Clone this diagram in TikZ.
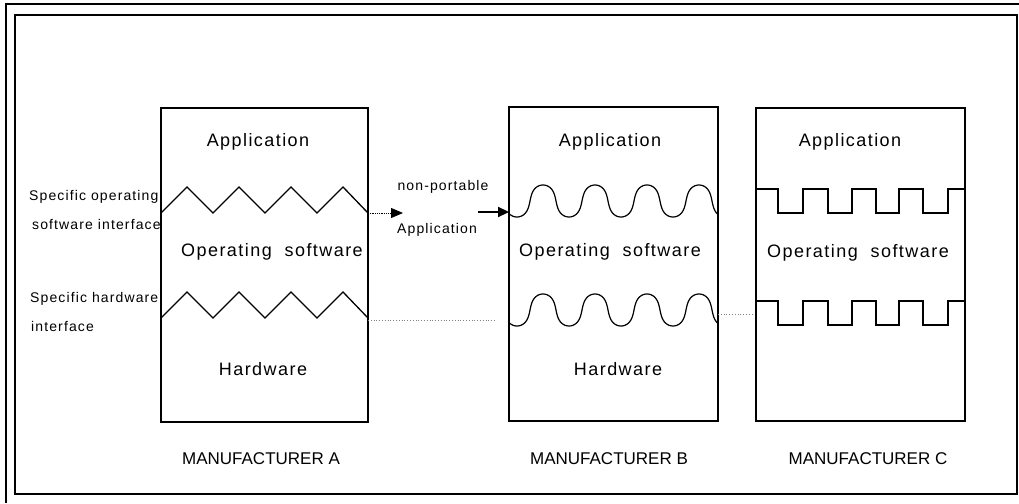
\documentclass[tikz,border=0pt]{standalone}
\usepackage{fontspec}
\setmainfont{Liberation Sans}
\newfontfamily\lsp[LetterSpace=8]{Liberation Sans}
\usetikzlibrary{arrows.meta}
\begin{document}
\begin{tikzpicture}[x=1pt,y=-1pt,
  frame/.style={line width=1.3pt},
  layerbox/.style={draw, line width=1.1pt, inner sep=0pt, outer sep=0pt, anchor=north west},
  iface/.style={line width=1.3pt, line join=miter},
  big/.style={font=\lsp\fontsize{18}{20}\selectfont, inner sep=0pt},
  small/.style={font=\lsp\fontsize{14}{16}\selectfont, inner sep=0pt},
  maker/.style={font=\fontsize{17}{19}\selectfont, inner sep=0pt},
  dotline/.style={dotted, line width=0.8pt, gray},
]
\useasboundingbox (0,0) rectangle (1019,503);
% frames
\draw[frame] (6,503) -- (6,4) -- (1019,4);
\draw[frame] (15,15) rectangle (1017,494);

% boxes
\node[layerbox, minimum width=207pt, minimum height=314pt] (A) at (161,108) {};
\node[layerbox, minimum width=209pt, minimum height=314pt] (B) at (509,107) {};
\node[layerbox, minimum width=209pt, minimum height=313pt] (C) at (756,108) {};

% zigzags in A
\draw[iface] (161,213) -- (187,187) -- (213,213) -- (239,187) -- (265,213) -- (291,187) -- (317,213) -- (343,187) -- (368,213);
\draw[iface] (161,318) -- (187,292) -- (213,318) -- (239,292) -- (265,318) -- (291,292) -- (317,318) -- (343,292) -- (368,318);

% waves in B
\draw[iface, line width=1.2pt] plot[domain=-220:1228, samples=260, smooth]
  ({543 + 0.144444*\x + 2.5*sin(2*\x)}, {201 - 16*cos(\x)});
\draw[iface, line width=1.2pt] plot[domain=-220:1228, samples=260, smooth]
  ({543 + 0.144444*\x + 2.5*sin(2*\x)}, {310 - 16*cos(\x)});

% square waves in C
\draw[iface, line width=1.1pt] (756,189) -- (778,189) -- (778,213) -- (803,213) -- (803,189) -- (828,189) -- (828,213) -- (852,213) -- (852,189) -- (876,189) -- (876,213) -- (899,213) -- (899,189) -- (923,189) -- (923,213) -- (948,213) -- (948,189) -- (965,189);
\draw[iface, line width=1.1pt] (756,301) -- (778,301) -- (778,325) -- (803,325) -- (803,301) -- (828,301) -- (828,325) -- (852,325) -- (852,301) -- (876,301) -- (876,325) -- (899,325) -- (899,301) -- (923,301) -- (923,325) -- (948,325) -- (948,301) -- (965,301);

% box texts
\node[big] (Aapp) at (258,142) {Application};
\node[big] (Aos) at (272,252) {Operating\ \ software};
\node[big] (Ahw) at (263,369) {Hardware};
\node[big] (Bapp) at (610,142) {Application};
\node[big] (Bos) at (610,252) {Operating\ \ software};
\node[big] (Bhw) at (618,369) {Hardware};
\node[big] (Capp) at (850,142) {Application};
\node[big] (Cos) at (858,253) {Operating\ \ software};

% left labels
\node[small, anchor=west] (l1) at (29,197) {Specific operating};
\node[small, anchor=west] (l2) at (32,224) {software\ interface};
\node[small, anchor=west] (l3) at (30,299) {Specific hardware};
\node[small, anchor=west] (l4) at (31,326) {interface};

% middle labels
\node[small] (np) at (443,187) {non-portable};
\node[small] (napp) at (437,230) {Application};

% manufacturer labels
\node[maker] (mA) at (261,459) {MANUFACTURER A};
\node[maker] (mB) at (609,459) {MANUFACTURER B};
\node[maker] (mC) at (868,459) {MANUFACTURER C};

% connectors
\coordinate (aout) at (368,213);
\coordinate (atip) at (403,213);
\coordinate (bstart) at (478,212);
\coordinate (bin) at (509,212);
\draw[densely dotted, line width=0.8pt, -{Triangle[length=12pt,width=10pt]}] (aout) -- (atip);
\draw[line width=2.2pt, -{Triangle[length=11pt,width=10pt]}] (bstart) -- (bin);

\coordinate (ahw) at (368,320);
\coordinate (bhw) at (496,320);
\coordinate (bhw2) at (718,314);
\coordinate (chw) at (752,314);
\draw[dotline] (ahw) -- (bhw);
\draw[dotline] (bhw2) -- (chw);
\end{tikzpicture}
\end{document}
